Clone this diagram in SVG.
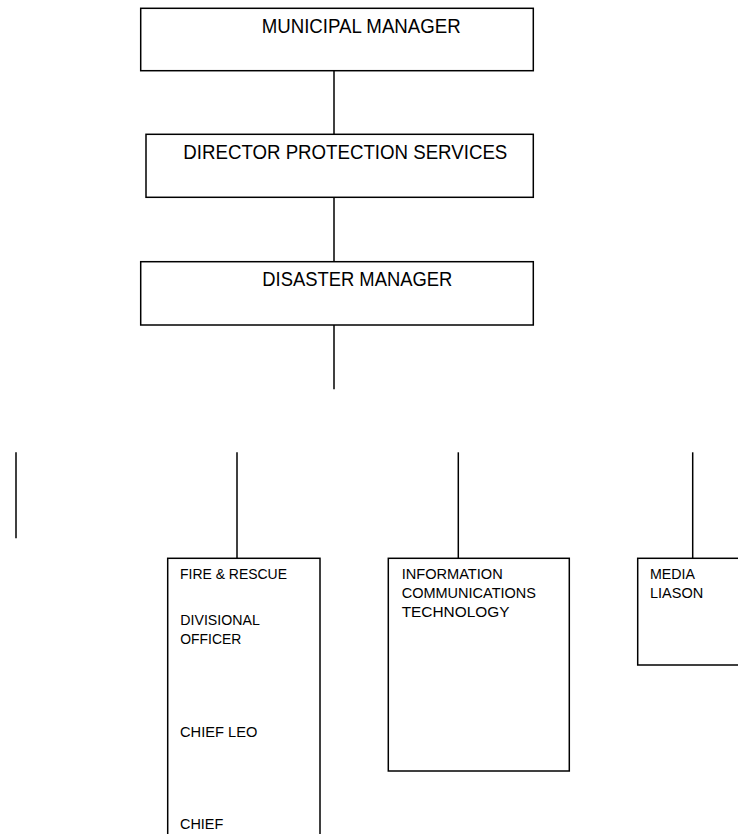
<svg xmlns="http://www.w3.org/2000/svg" width="738" height="834" viewBox="0 0 738 834">
<style>
.box{fill:#fff;stroke:#000;stroke-width:1.5}
.ln{stroke:#000;stroke-width:1.5;fill:none}
.t1{font-family:"Liberation Sans",Arial,sans-serif;font-size:20.5px;fill:#000}
.t2{font-family:"Liberation Sans",Arial,sans-serif;font-size:14.9px;fill:#000}
</style>
<rect width="738" height="834" fill="#fff"/>
<g id="connectors">
<line class="ln" x1="334" y1="70.7" x2="334" y2="134.3"/>
<line class="ln" x1="334" y1="197.3" x2="334" y2="261.7"/>
<line class="ln" x1="334" y1="325" x2="334" y2="389.3"/>
<line class="ln" x1="16" y1="452.3" x2="16" y2="538.3"/>
<line class="ln" x1="237" y1="452.3" x2="237" y2="558.3"/>
<line class="ln" x1="458.3" y1="452.3" x2="458.3" y2="558.3"/>
<line class="ln" x1="692.7" y1="452.3" x2="692.7" y2="558.3"/>
</g>
<g id="municipal-manager">
<rect class="box" x="140.7" y="8.3" width="392.6" height="62.4"/>
<text class="t1" x="261.7" y="33" textLength="199" lengthAdjust="spacingAndGlyphs">MUNICIPAL MANAGER</text>
</g>
<g id="director-protection-services">
<rect class="box" x="146" y="134.3" width="387.3" height="63"/>
<text class="t1" x="183.3" y="159.3" textLength="324" lengthAdjust="spacingAndGlyphs">DIRECTOR PROTECTION SERVICES</text>
</g>
<g id="disaster-manager">
<rect class="box" x="140.7" y="261.7" width="392.6" height="63.3"/>
<text class="t1" x="262.3" y="286" textLength="190" lengthAdjust="spacingAndGlyphs">DISASTER MANAGER</text>
</g>
<g id="fire-rescue">
<rect class="box" x="167.7" y="558.3" width="152.3" height="290"/>
<text class="t2" x="180" y="579" textLength="107" lengthAdjust="spacingAndGlyphs">FIRE &amp; RESCUE</text>
<text class="t2" x="180.3" y="625.3" textLength="79.5" lengthAdjust="spacingAndGlyphs">DIVISIONAL</text>
<text class="t2" x="180.3" y="643.5" textLength="61" lengthAdjust="spacingAndGlyphs">OFFICER</text>
<text class="t2" x="180" y="736.7" textLength="77.3" lengthAdjust="spacingAndGlyphs">CHIEF LEO</text>
<text class="t2" x="180" y="829.3" textLength="43.3" lengthAdjust="spacingAndGlyphs">CHIEF</text>
</g>
<g id="ict">
<rect class="box" x="388.3" y="558.3" width="181" height="212.7"/>
<text class="t2" x="401.7" y="579.3" textLength="101" lengthAdjust="spacingAndGlyphs">INFORMATION</text>
<text class="t2" x="401.7" y="597.7" textLength="134.3" lengthAdjust="spacingAndGlyphs">COMMUNICATIONS</text>
<text class="t2" x="401.7" y="616.7" textLength="107.7" lengthAdjust="spacingAndGlyphs">TECHNOLOGY</text>
</g>
<g id="media-liason">
<rect class="box" x="637.7" y="558.3" width="110" height="106.7"/>
<text class="t2" x="650" y="579.3" textLength="45" lengthAdjust="spacingAndGlyphs">MEDIA</text>
<text class="t2" x="650" y="597.7" textLength="53.3" lengthAdjust="spacingAndGlyphs">LIASON</text>
</g>
</svg>
